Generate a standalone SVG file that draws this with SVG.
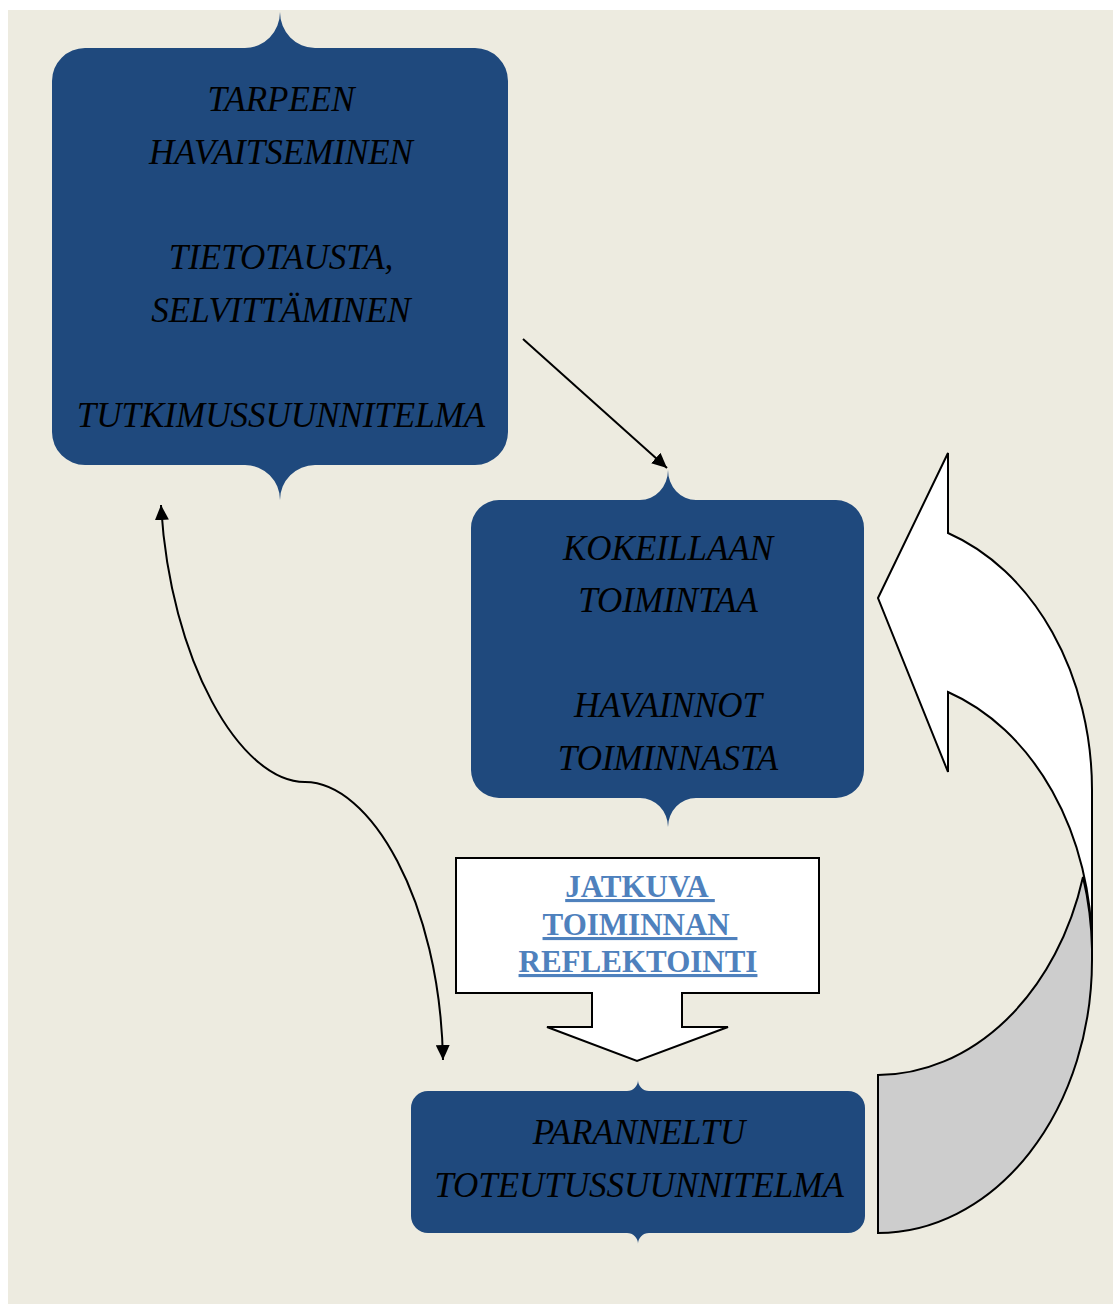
<svg xmlns="http://www.w3.org/2000/svg" width="1113" height="1305" viewBox="0 0 1113 1305">
<style>
.node{fill:#1F497D;}
.nt{font-family:"Liberation Serif","Times New Roman",serif;font-style:italic;font-size:35px;fill:#000;text-anchor:middle;}
.ct{font-family:"Liberation Serif","Times New Roman",serif;font-weight:bold;font-size:31px;fill:#4F81BD;text-anchor:middle;text-decoration:underline;text-decoration-thickness:3px;}
.conn{fill:none;stroke:#000;stroke-width:2;}
.shape{stroke:#000;stroke-width:2;stroke-linejoin:miter;}
</style>
<defs>
<marker id="ah" markerUnits="userSpaceOnUse" markerWidth="16" markerHeight="14" refX="15" refY="7" orient="auto-start-reverse">
<path d="M0,0 L15,7 L0,14 Z" fill="#000"/>
</marker>
</defs>
<rect x="0" y="0" width="1113" height="1305" fill="#FFFFFF"/>
<rect x="8" y="10" width="1105" height="1294" fill="#EDEBE0"/>

<g id="node-tarpeen">
<path class="node" d="M85,48 L245,48 A35,36 0 0,0 280,12 A35,36 0 0,0 315,48 L475,48 A33,33 0 0,1 508,81 L508,432 A33,33 0 0,1 475,465 L315,465 A35,35 0 0,0 280,500 A35,35 0 0,0 245,465 L85,465 A33,33 0 0,1 52,432 L52,81 A33,33 0 0,1 85,48 Z"/>
<text class="nt" x="281" y="111">TARPEEN</text>
<text class="nt" x="281" y="164">HAVAITSEMINEN</text>
<text class="nt" x="281" y="269">TIETOTAUSTA,</text>
<text class="nt" x="281" y="322">SELVITTÄMINEN</text>
<text class="nt" x="281" y="427">TUTKIMUSSUUNNITELMA</text>
</g>

<g id="node-kokeillaan">
<path class="node" d="M499,500 L640,500 A28,30 0 0,0 668,470 A28,30 0 0,0 696,500 L836,500 A28,28 0 0,1 864,528 L864,770 A28,28 0 0,1 836,798 L696,798 A28,29 0 0,0 668,827 A28,29 0 0,0 640,798 L499,798 A28,28 0 0,1 471,770 L471,528 A28,28 0 0,1 499,500 Z"/>
<text class="nt" x="668" y="560">KOKEILLAAN</text>
<text class="nt" x="668" y="612">TOIMINTAA</text>
<text class="nt" x="668" y="717">HAVAINNOT</text>
<text class="nt" x="668" y="770">TOIMINNASTA</text>
</g>

<g id="node-reflektointi">
<path class="shape" fill="#FFFFFF" d="M456,858 L819,858 L819,993 L682,993 L682,1027 L728,1027 L637,1061 L547,1027 L592,1027 L592,993 L456,993 Z"/>
<text class="ct" x="640" y="897" xml:space="preserve">JATKUVA </text>
<text class="ct" x="640" y="935" xml:space="preserve">TOIMINNAN </text>
<text class="ct" x="638" y="972">REFLEKTOINTI</text>
</g>

<g id="node-paranneltu">
<path class="node" d="M428,1091 L627,1091 A11,11 0 0,0 638,1080 A11,11 0 0,0 649,1091 L848,1091 A17,17 0 0,1 865,1108 L865,1216 A17,17 0 0,1 848,1233 L649,1233 A11,11 0 0,0 638,1244 A11,11 0 0,0 627,1233 L428,1233 A17,17 0 0,1 411,1216 L411,1108 A17,17 0 0,1 428,1091 Z"/>
<text class="nt" x="639" y="1144">PARANNELTU</text>
<text class="nt" x="639" y="1197">TOTEUTUSSUUNNITELMA</text>
</g>

<g id="node-curved-arrow">
<path class="shape" fill="#FFFFFF" d="M878,598 L948,453 L948,533 A214,272 0 0,1 1092,790 L1092,949 A214,272 0 0,0 948,692 L948,772 Z"/>
<path class="shape" fill="#CDCDCD" d="M878,1075 A214,273 0 0,0 1083,877 A214,272 0 0,1 1092,949 L1092,960 A214,273 0 0,1 878,1233 Z"/>
</g>

<g id="connectors">
<line class="conn" x1="523" y1="339" x2="667" y2="468" marker-end="url(#ah)"/>
<path class="conn" d="M161,505 C170,660 240,782 305,782 C370,782 440,900 443,1060" marker-start="url(#ah)" marker-end="url(#ah)"/>
</g>
</svg>
